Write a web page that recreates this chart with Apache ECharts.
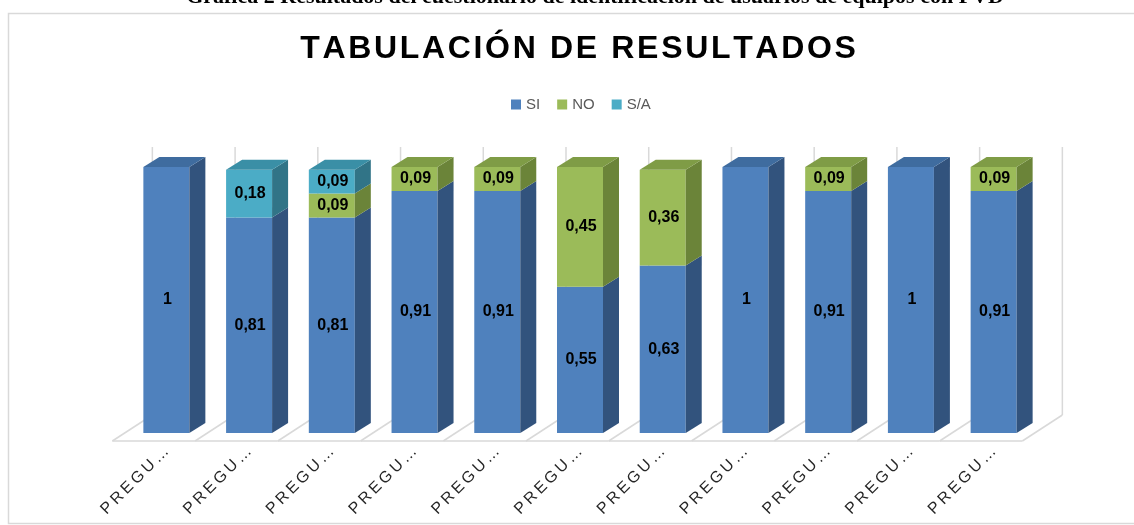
<!DOCTYPE html>
<html lang="es">
<head>
	<meta charset="UTF-8">
	<title>Tabulación de resultados</title>
	<script src="https://cdn.jsdelivr.net/npm/echarts@6/dist/echarts.min.js"></script>
	<style>
		html, body { margin: 0; padding: 0; background: #fff; }
		#main { width: 1134px; height: 525px; }
	</style>
</head>
<body>
	<div id="main"></div>
	<script>
		// datos
		var categorias = ['PREGUNTA 1', 'PREGUNTA 2', 'PREGUNTA 3', 'PREGUNTA 4', 'PREGUNTA 5', 'PREGUNTA 6',
			'PREGUNTA 7', 'PREGUNTA 8', 'PREGUNTA 9', 'PREGUNTA 10', 'PREGUNTA 11'];
		var si = [1, 0.81, 0.81, 0.91, 0.91, 0.55, 0.63, 1, 0.91, 1, 0.91];
		var no = [0, 0, 0.09, 0.09, 0.09, 0.45, 0.36, 0, 0.09, 0, 0.09];
		var sa = [0, 0.18, 0.09, 0, 0, 0, 0, 0, 0, 0, 0];

		var nombres = ['SI', 'NO', 'S/A'];
		var valores = [si, no, sa];
		// frente, lado, tapa
		var colores = [
			['#4F81BD', '#32537D', '#3F6C9F'],
			['#9BBB59', '#6B8439', '#7F9C46'],
			['#4BACC6', '#317487', '#3A8FA6']
		];

		var W = 46, DX = 16, DY = 10; // caja 3D

		// datos apilados: [indice, valor, base, esTope]
		function apilar(s) {
			return categorias.map(function (c, i) {
				var base = 0, resto = 0;
				for (var k = 0; k < s; k++) base += valores[k][i];
				for (var k = s + 1; k < valores.length; k++) resto += valores[k][i];
				return [i, valores[s][i], base, resto > 0 ? 0 : 1];
			});
		}

		function caja(s) {
			return function (params, api) {
				var i = api.value(0), v = api.value(1), base = api.value(2), tope = api.value(3);
				if (!v) return null;
				var p0 = api.coord([i, base]), p1 = api.coord([i, base + v]);
				var l = p0[0] - W / 2, r = p0[0] + W / 2;
				var c = colores[s];
				var hijos = [
					{ type: 'rect', shape: { x: l, y: p1[1], width: W, height: p0[1] - p1[1] }, style: { fill: c[0] } },
					{ type: 'polygon', shape: { points: [[r, p0[1]], [r, p1[1]], [r + DX, p1[1] - DY], [r + DX, p0[1] - DY]] }, style: { fill: c[1] } }
				];
				if (tope) {
					hijos.push({ type: 'polygon', shape: { points: [[l, p1[1]], [l + DX, p1[1] - DY], [r + DX, p1[1] - DY], [r, p1[1]]] }, style: { fill: c[2] } });
				}
				hijos.push({
					type: 'text',
					style: {
						x: p0[0] + 1, y: (p0[1] + p1[1]) / 2,
						text: String(v).replace('.', ','),
						align: 'center', verticalAlign: 'middle',
						font: 'bold 16px "Liberation Sans", Arial, sans-serif',
						fill: '#000'
					}
				});
				return { type: 'group', children: hijos };
			};
		}

		// piso y pared del fondo
		function piso(params, api) {
			var i = api.value(0);
			var p = api.coord([i, 0]);
			var arriba = api.coord([i, 1])[1] - 20;
			var bw = api.size([1, 0])[0];
			var fx = p[0] - 54, fy = p[1] + 8, bx = fx + 40, by = p[1] - 18;
			var st = { stroke: '#D9D9D9', lineWidth: 1.5, fill: null };
			var hijos = [
				{ type: 'line', shape: { x1: fx, y1: fy, x2: bx, y2: by }, style: st },
				{ type: 'line', shape: { x1: bx, y1: by, x2: bx, y2: arriba }, style: st },
				{ type: 'line', shape: { x1: fx, y1: fy, x2: fx + bw, y2: fy }, style: st }
			];
			if (i === categorias.length - 1) {
				hijos.push({ type: 'line', shape: { x1: fx + bw, y1: fy, x2: bx + bw, y2: by }, style: st });
				hijos.push({ type: 'line', shape: { x1: bx + bw, y1: by, x2: bx + bw, y2: arriba }, style: st });
			}
			return { type: 'group', children: hijos };
		}

		var series = [{
			name: 'piso',
			type: 'custom',
			renderItem: piso,
			data: categorias.map(function (c, i) { return [i, 0]; }),
			encode: { x: 0, y: 1 },
			silent: true,
			clip: false,
			z: 1
		}];
		nombres.forEach(function (n, s) {
			series.push({
				name: n,
				type: 'custom',
				renderItem: caja(s),
				data: apilar(s),
				encode: { x: 0, y: 1 },
				itemStyle: { color: colores[s][0] },
				clip: false,
				z: 2 + s
			});
		});

		var chart = echarts.init(document.getElementById('main'));
		chart.setOption({
			backgroundColor: '#fff',
			animation: false,
			legend: {
				data: nombres,
				top: 92,
				left: 506,
				icon: 'rect',
				itemWidth: 10,
				itemHeight: 10,
				itemGap: 17,
				textStyle: { color: '#595959', fontSize: 15, fontFamily: '"Liberation Sans", Arial, sans-serif' }
			},
			grid: { left: 125, top: 167, width: 910, height: 266 },
			xAxis: {
				type: 'category',
				data: categorias,
				axisLine: { show: false },
				axisTick: { show: false },
				splitLine: { show: false },
				axisLabel: {
					rotate: 45,
					margin: 16,
					interval: 0,
					color: '#262626',
					fontSize: 16,
					fontFamily: '"Liberation Sans", Arial, sans-serif',
					formatter: function (v) { return v.slice(0, 5).split('').join('\u2009') + '\u2009…'; }
				}
			},
			yAxis: {
				type: 'value',
				min: 0,
				max: 1,
				show: false
			},
			graphic: [
				{
					type: 'rect',
					shape: { x: 8.5, y: 13.5, width: 1140, height: 510 },
					style: { fill: null, stroke: '#D9D9D9', lineWidth: 1.5 },
					silent: true
				},
				{
					type: 'text',
					style: {
						x: 595, y: 8,
						text: 'Gráfica 2 Resultados del cuestionario de identificación de usuarios de equipos con PVD',
						align: 'center', verticalAlign: 'bottom',
						font: 'bold 22px "Liberation Serif", "Times New Roman", serif',
						fill: '#000'
					},
					silent: true
				},
				{
					type: 'text',
					style: {
						x: 578, y: 49,
						text: 'TABULACIÓN DE RESULTADOS'.split('').join('\u200A'),
						align: 'center', verticalAlign: 'middle',
						font: 'bold 32px "Liberation Sans", Arial, sans-serif',
						fill: '#000'
					},
					silent: true
				}
			],
			series: series
		});
	</script>
</body>
</html>
